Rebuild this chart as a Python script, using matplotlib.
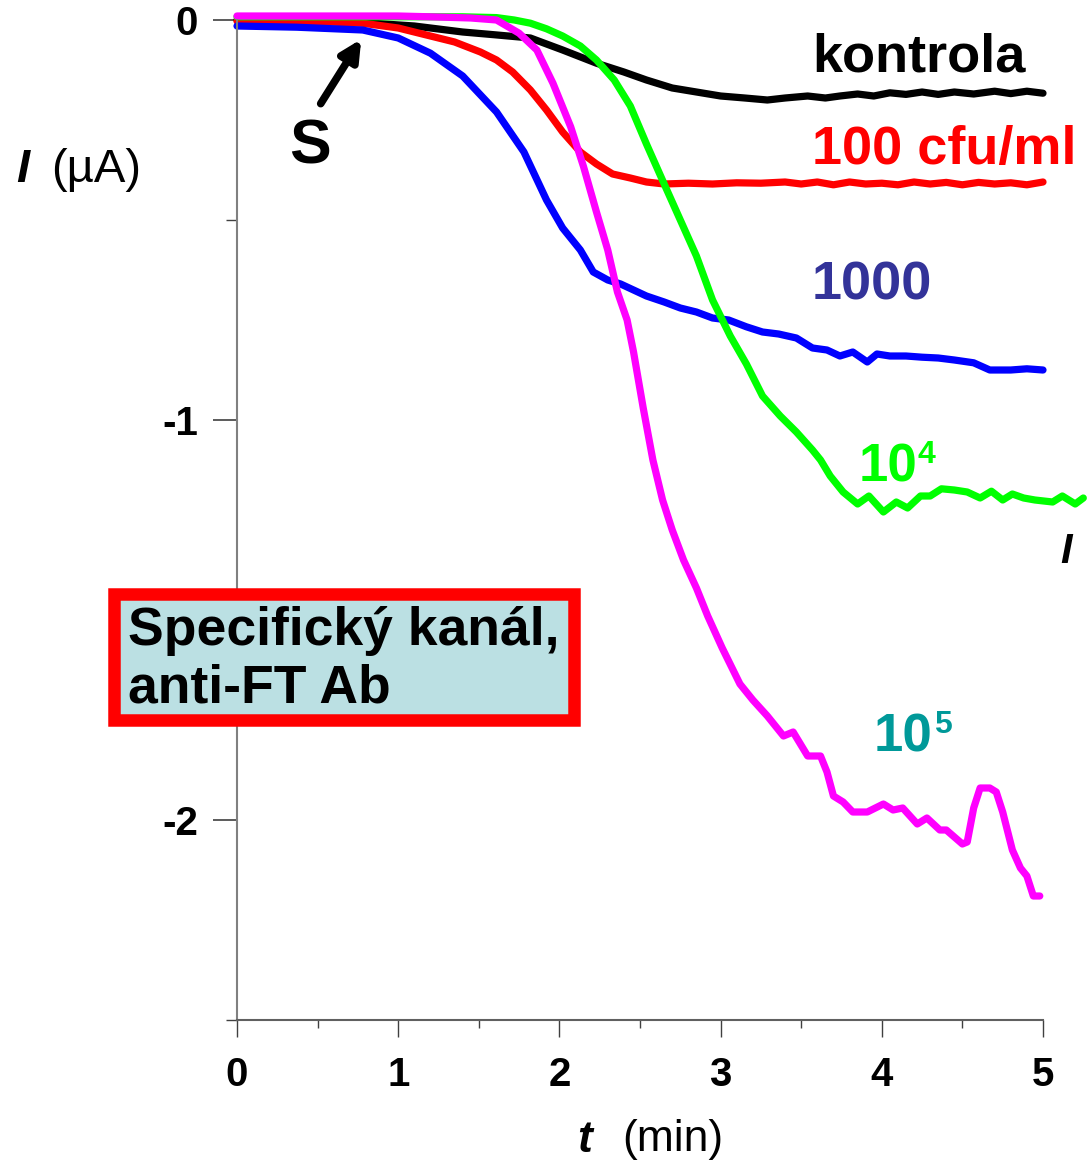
import matplotlib.pyplot as plt
from matplotlib.patches import Rectangle

# --- data (t in min, I in uA) ---
t_kontrola = [0, 0.5, 0.84, 1.1, 1.4, 1.6, 1.82, 2.02, 2.23, 2.4, 2.54, 2.7, 2.85, 3.0, 3.15, 3.29,
              3.4, 3.54, 3.65, 3.74, 3.85, 3.95, 4.05, 4.15, 4.25, 4.35, 4.45, 4.57, 4.7, 4.8, 4.9, 5.0]
i_kontrola = [0.0, -0.002, -0.008, -0.015, -0.03, -0.037, -0.045, -0.075, -0.108, -0.13, -0.15, -0.17,
              -0.18, -0.19, -0.195, -0.2, -0.195, -0.19, -0.195, -0.19, -0.185, -0.19, -0.182, -0.186,
              -0.18, -0.186, -0.18, -0.185, -0.178, -0.184, -0.178, -0.183]

t_100 = [0, 0.5, 0.78, 1.0, 1.2, 1.35, 1.51, 1.61, 1.71, 1.82, 1.92, 2.02, 2.13, 2.23, 2.33, 2.44,
         2.54, 2.65, 2.8, 2.95, 3.1, 3.25, 3.4, 3.5, 3.6, 3.7, 3.8, 3.9, 4.0, 4.1, 4.2, 4.3, 4.4,
         4.5, 4.6, 4.7, 4.8, 4.9, 5.0]
i_100 = [-0.003, -0.004, -0.008, -0.02, -0.04, -0.055, -0.08, -0.1, -0.13, -0.175, -0.225, -0.28,
         -0.33, -0.36, -0.385, -0.395, -0.405, -0.41, -0.408, -0.41, -0.407, -0.408, -0.405, -0.41,
         -0.405, -0.412, -0.405, -0.41, -0.408, -0.412, -0.405, -0.41, -0.406, -0.412, -0.406,
         -0.41, -0.407, -0.412, -0.405]

t_1000 = [0, 0.37, 0.78, 1.0, 1.2, 1.4, 1.61, 1.78, 1.92, 2.02, 2.13, 2.21, 2.3, 2.38, 2.46, 2.54,
          2.65, 2.75, 2.85, 2.95, 3.05, 3.16, 3.26, 3.36, 3.47, 3.57, 3.66, 3.74, 3.82, 3.91, 3.97,
          4.05, 4.15, 4.25, 4.35, 4.45, 4.57, 4.67, 4.8, 4.9, 5.0]
i_1000 = [-0.015, -0.018, -0.025, -0.045, -0.083, -0.14, -0.23, -0.33, -0.45, -0.52, -0.575, -0.63,
          -0.65, -0.66, -0.675, -0.69, -0.705, -0.72, -0.73, -0.745, -0.75, -0.767, -0.78, -0.785,
          -0.795, -0.82, -0.825, -0.84, -0.83, -0.855, -0.835, -0.84, -0.84, -0.843, -0.845, -0.85,
          -0.857, -0.875, -0.875, -0.872, -0.875]

t_1e4 = [0, 0.5, 1.0, 1.4, 1.61, 1.72, 1.82, 1.92, 2.02, 2.13, 2.23, 2.34, 2.44, 2.54, 2.65, 2.75,
         2.85, 2.95, 3.06, 3.16, 3.26, 3.37, 3.47, 3.57, 3.62, 3.68, 3.76, 3.85, 3.92, 4.01, 4.09,
         4.16, 4.24, 4.3, 4.37, 4.45, 4.53, 4.61, 4.68, 4.75, 4.81, 4.88, 4.95, 5.06, 5.12, 5.2, 5.25]
i_1e4 = [0.008, 0.008, 0.008, 0.008, 0.006, 0.0, -0.008, -0.022, -0.04, -0.065, -0.1, -0.15,
         -0.215, -0.31, -0.41, -0.5, -0.59, -0.7, -0.79, -0.86, -0.94, -0.99, -1.03, -1.075, -1.1,
         -1.14, -1.18, -1.21, -1.19, -1.23, -1.205, -1.22, -1.19, -1.19, -1.172, -1.175, -1.18,
         -1.195, -1.178, -1.2, -1.185, -1.195, -1.2, -1.205, -1.19, -1.21, -1.195]

t_1e5 = [0, 0.5, 1.0, 1.2, 1.45, 1.61, 1.75, 1.86, 1.96, 2.07, 2.15, 2.23, 2.3, 2.36, 2.42, 2.46,
         2.52, 2.58, 2.64, 2.7, 2.77, 2.85, 2.92, 3.01, 3.12, 3.2, 3.29, 3.39, 3.45, 3.54, 3.62,
         3.66, 3.7, 3.76, 3.82, 3.91, 4.01, 4.07, 4.13, 4.22, 4.28, 4.36, 4.4, 4.5, 4.53, 4.57,
         4.61, 4.67, 4.71, 4.75, 4.81, 4.86, 4.9, 4.94, 4.98]
i_1e5 = [0.01, 0.01, 0.01, 0.008, 0.005, 0.0, -0.033, -0.075, -0.158, -0.267, -0.367, -0.48,
         -0.575, -0.68, -0.75, -0.83, -0.97, -1.1, -1.2, -1.275, -1.35, -1.42, -1.49, -1.57, -1.66,
         -1.7, -1.74, -1.79, -1.78, -1.84, -1.84, -1.88, -1.94, -1.955, -1.98, -1.98, -1.96, -1.975,
         -1.97, -2.01, -1.995, -2.025, -2.025, -2.06, -2.055, -1.97, -1.92, -1.92, -1.93, -1.98,
         -2.075, -2.12, -2.14, -2.19, -2.19]

W, H = 1089, 1167
fig = plt.figure(figsize=(W / 100, H / 100), dpi=100)
ax = fig.add_axes([237 / W, 1 - 1020 / H, (1043 - 237) / W, 1000 / H])


def fx(x, y):
    # pixel position -> figure fraction
    return x / W, 1 - y / H


lw = 5.2
style = dict(lw=lw, clip_on=False, solid_joinstyle="round", solid_capstyle="round")
ax.plot(t_kontrola, i_kontrola, color="black", **style)
ax.plot(t_100, i_100, color="#ff0000", **style)
ax.plot(t_1000, i_1000, color="#0000ff", **style)
ax.plot(t_1e4, i_1e4, color="#00ff00", **style)
ax.plot(t_1e5, i_1e5, color="#ff00ff", **style)

ax.set_xlim(0, 5)
ax.set_ylim(-2.5, 0)
for s in ["top", "right"]:
    ax.spines[s].set_visible(False)
ax.spines["left"].set_color("#808080")
ax.spines["bottom"].set_color("#606060")
ax.spines["left"].set_linewidth(1.5)
ax.spines["bottom"].set_linewidth(1.5)

ax.set_xticks([0, 1, 2, 3, 4, 5])
ax.set_xticks([0.5, 1.5, 2.5, 3.5, 4.5], minor=True)
ax.set_yticks([0, -1, -2])
ax.set_yticks([-0.5, -1.5, -2.5], minor=True)
ax.set_xticklabels(["0", "1", "2", "3", "4", "5"])
ax.set_yticklabels(["0", "-1", "-2"])
ax.tick_params(axis="x", which="major", length=12, width=1, color="#404040", pad=14, labelsize=29)
ax.tick_params(axis="x", which="minor", length=6, width=1, color="#404040")
ax.tick_params(axis="y", which="major", length=17, width=1.2, color="#404040", pad=11, labelsize=29)
ax.tick_params(axis="y", which="minor", length=8, width=1, color="#404040")
for lab in ax.get_xticklabels() + ax.get_yticklabels():
    lab.set_fontfamily("Liberation Sans")
    lab.set_fontweight("bold")

# axis labels
fig.text(*fx(577, 1140), "t", fontsize=32, fontweight="bold", fontstyle="italic",
         fontfamily="Liberation Sans", va="center", ha="left")
fig.text(*fx(622, 1140), "(min)", fontsize=32, fontfamily="Liberation Sans",
         va="center", ha="left")
fig.text(*fx(16, 170), "I", fontsize=34, fontweight="bold", fontstyle="italic",
         fontfamily="Liberation Sans", va="center", ha="left")
fig.text(*fx(51, 170), "(\u00b5A)", fontsize=34, fontfamily="Liberation Sans",
         va="center", ha="left")

# series labels
lab = dict(fontsize=39, fontweight="bold", fontfamily="Liberation Sans", va="center", ha="left")
fig.text(*fx(812, 57), "kontrola", color="black", **lab)
fig.text(*fx(812, 150), "100 cfu/ml", color="#ff0000", **lab)
fig.text(*fx(812, 285), "1000", color="#333399", **lab)
sup = dict(fontsize=23, fontweight="bold", fontfamily="Liberation Sans", va="top", ha="left")
base = dict(fontsize=38, fontweight="bold", fontfamily="Liberation Sans", va="baseline", ha="left")
fig.text(*fx(859, 482), "10", color="#00ff00", **base)
fig.text(*fx(918, 440), "4", color="#00ff00", **sup)
fig.text(*fx(874, 752), "10", color="#009999", **base)
fig.text(*fx(934, 710), "5", color="#009999", **sup)
fig.text(*fx(1060, 552), "I", fontsize=30, fontweight="bold", fontstyle="italic",
         fontfamily="Liberation Sans", va="center", ha="left")

# S arrow
ax.annotate("", xy=(0.78, -0.042), xytext=(0.51, -0.215),
            arrowprops=dict(arrowstyle="-|>", lw=5.5, color="black", mutation_scale=30))
fig.text(*fx(310, 147), "S", fontsize=45, fontweight="bold", fontfamily="Liberation Sans",
         va="center", ha="center")

# boxed note
x0, y0 = fx(114, 720)
x1, y1 = fx(574, 594)
fig.patches.append(Rectangle((x0, y0), x1 - x0, y1 - y0, transform=fig.transFigure,
                             facecolor="#bbe0e3", edgecolor="#ff0000", lw=9, zorder=5))
fig.text(*fx(128, 660), "Specifický kanál,\nanti-FT Ab", fontsize=38.5, fontweight="bold",
         fontfamily="Liberation Sans", va="center", ha="left", linespacing=1.2, zorder=6)

fig.savefig("out.png", dpi=100)
